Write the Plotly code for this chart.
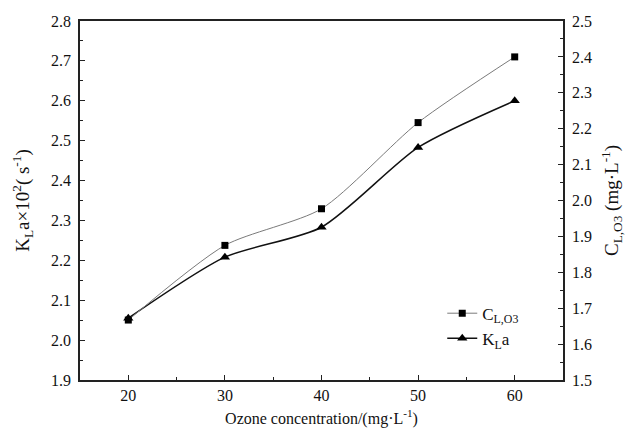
import plotly.graph_objects as go

ozone = [20, 30, 40, 50, 60]
c_lo3 = [1.667, 1.875, 1.977, 2.217, 2.40]
kla = [2.055, 2.208, 2.283, 2.483, 2.60]

FONT = "Liberation Serif"
AX = "#222222"

fig = go.Figure()
fig.add_trace(go.Scatter(
    x=ozone, y=c_lo3, name="C<sub>L,O3</sub>", yaxis="y2",
    mode="lines+markers", line=dict(color="#7a7a7a", width=1, shape="spline", smoothing=0.7),
    marker=dict(symbol="square", size=7, color="black"),
))
fig.add_trace(go.Scatter(
    x=ozone, y=kla, name="K<sub>L</sub>a",
    mode="lines+markers", line=dict(color="#111111", width=1.5, shape="spline", smoothing=0.7),
    marker=dict(symbol="triangle-up", size=9, color="black"),
))

common = dict(showline=True, linecolor=AX, linewidth=1.5, ticks="inside", ticklen=5,
              tickcolor=AX, tickwidth=1.2, showgrid=False, zeroline=False,
              tickfont=dict(family=FONT, size=16, color="#111"))

fig.update_layout(
    width=631, height=438,
    margin=dict(l=80, r=68, t=21, b=58),
    plot_bgcolor="white", paper_bgcolor="white",
    font=dict(family=FONT, size=16, color="#111"),
    xaxis=dict(range=[15, 65], dtick=10, tick0=0, mirror=True,
               minor=dict(ticks="inside", dtick=5, ticklen=3, tickcolor=AX),
               title=dict(text="Ozone concentration/(mg·L<sup>-1</sup>)", standoff=10,
                          font=dict(family=FONT, size=16)),
               **common),
    yaxis=dict(range=[1.9, 2.8], dtick=0.1, tick0=1.9, tickformat=".1f",
               minor=dict(ticks="inside", dtick=0.05, ticklen=3, tickcolor=AX),
               title=dict(text="K<sub>L</sub>a×10<sup>2</sup>( s<sup>-1</sup>)", standoff=16,
                          font=dict(family=FONT, size=19)),
               ticklabelstandoff=4,
               **common),
    yaxis2=dict(range=[1.5, 2.5], dtick=0.1, tick0=1.5, tickformat=".1f",
                overlaying="y", side="right",
                minor=dict(ticks="inside", dtick=0.05, ticklen=3, tickcolor=AX),
                title=dict(text="C<sub>L,O3</sub> (mg·L<sup>-1</sup>)", standoff=14,
                           font=dict(family=FONT, size=19)),
                ticklabelstandoff=4,
                **common),
    legend=dict(x=0.75, y=0.15, xanchor="left", yanchor="middle",
                bgcolor="rgba(0,0,0,0)", font=dict(family=FONT, size=17),
                itemwidth=30, tracegroupgap=0),
    showlegend=True,
)

fig.write_html("out.html")
